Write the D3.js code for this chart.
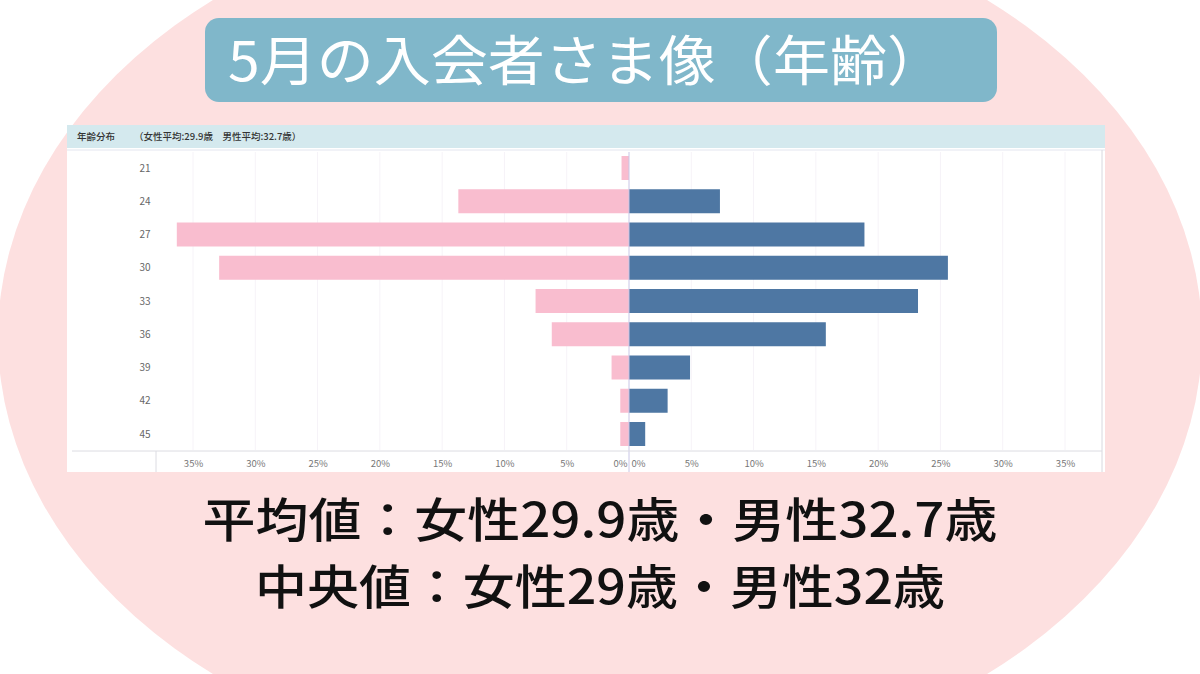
<!DOCTYPE html>
<html><head><meta charset="utf-8">
<script src="https://cdn.jsdelivr.net/npm/d3@7"></script>
<style>
html,body{margin:0;padding:0;background:#fff;}
svg{display:block;}
text{font-family:"Noto Sans CJK JP","Noto Sans",sans-serif;}
</style></head>
<body>
<svg id="c" width="1200" height="674"></svg>
<script>
const ages = [21, 24, 27, 30, 33, 36, 39, 42, 45];
const female = [0.6, 13.7, 36.3, 32.9, 7.5, 6.2, 1.4, 0.7, 0.7];
const male = [0, 7.3, 18.9, 25.6, 23.2, 15.8, 4.9, 3.1, 1.3];
const tickValues = [0, 5, 10, 15, 20, 25, 30, 35];
const title = "5月の入会者さま像（年齢）";
const headerLabel = "年齢分布";
const headerStats = "（女性平均:29.9歳　男性平均:32.7歳）";
const summaryLines = ["平均値：女性29.9歳・男性32.7歳", "中央値：女性29歳・男性32歳"];

const svg = d3.select("#c");

// background ellipse
svg.append("ellipse").attr("cx", 600).attr("cy", 337).attr("rx", 602).attr("ry", 440).attr("fill", "#fde0e0");

// title box
svg.append("rect").attr("x", 205).attr("y", 18).attr("width", 792).attr("height", 84).attr("rx", 14)
  .attr("fill", "#80b7ca");
svg.append("text").attr("x", 228).attr("y", 81).attr("font-size", 54).attr("fill", "#fff")
  .attr("font-family", "'Liberation Sans','Noto Sans CJK JP',sans-serif")
  .attr("textLength", 716).attr("lengthAdjust", "spacingAndGlyphs").text(title);

// chart panel
const panel = {x: 67, y: 125, w: 1038, h: 347};
svg.append("rect").attr("x", panel.x).attr("y", panel.y).attr("width", panel.w).attr("height", panel.h).attr("fill", "#fff");
svg.append("rect").attr("x", panel.x).attr("y", panel.y).attr("width", panel.w).attr("height", 23).attr("fill", "#d4e9ee");
svg.append("line").attr("x1", panel.x).attr("x2", panel.x + panel.w).attr("y1", 150).attr("y2", 150).attr("stroke", "#e3e6ef");
svg.append("text").attr("x", 77).attr("y", 140).attr("font-size", 9.5).attr("font-weight", 500).attr("fill", "#333").text(headerLabel);
svg.append("text").attr("x", 134).attr("y", 140).attr("font-size", 9.5).attr("font-weight", 500).attr("fill", "#333").text(headerStats);
svg.append("line").attr("x1", 1102).attr("x2", 1102).attr("y1", 150).attr("y2", 472).attr("stroke", "#d8d8de");

const cx = 629;
const xL = d3.scaleLinear().domain([0, 35]).range([cx, 193]);
const xR = d3.scaleLinear().domain([0, 35]).range([cx, 1065]);
const y = d3.scalePoint().domain(ages).range([168, 434]);
const bh = 24;

// faint grid
const g = svg.append("g");
tickValues.filter(t => t > 0).forEach(t => {
  [xL(t), xR(t)].forEach(px => g.append("line").attr("x1", px).attr("x2", px).attr("y1", 152).attr("y2", 450).attr("stroke", "#f6f3f8"));
});

// bars
svg.append("g").selectAll("rect").data(ages).join("rect")
  .attr("x", (d, i) => xL(female[i])).attr("width", (d, i) => cx - xL(female[i]))
  .attr("y", d => y(d) - bh / 2).attr("height", bh).attr("fill", "#f9bdcf");
svg.append("g").selectAll("rect").data(ages).join("rect")
  .attr("x", cx).attr("width", (d, i) => xR(male[i]) - cx)
  .attr("y", d => y(d) - bh / 2).attr("height", bh).attr("fill", "#4e77a3");

// center line
svg.append("line").attr("x1", cx).attr("x2", cx).attr("y1", 152).attr("y2", 472).attr("stroke", "#c9c6e6");

// age labels
svg.append("g").selectAll("text").data(ages).join("text")
  .attr("x", 145).attr("y", d => y(d) + 3.5).attr("text-anchor", "middle").attr("font-size", 10).attr("fill", "#666")
  .text(d => d);

// axis area
svg.append("line").attr("x1", 72).attr("x2", 1102).attr("y1", 451).attr("y2", 451).attr("stroke", "#dcdce2");
svg.append("line").attr("x1", 156).attr("x2", 156).attr("y1", 451).attr("y2", 472).attr("stroke", "#dcdce2");

const axL = d3.axisBottom(xL).tickValues(tickValues).tickFormat(d => d + "%").tickSize(0);
const axR = d3.axisBottom(xR).tickValues(tickValues).tickFormat(d => d + "%").tickSize(0);
const gl = svg.append("g").attr("transform", "translate(0,457)").call(axL);
const gr = svg.append("g").attr("transform", "translate(0,457)").call(axR);
[gl, gr].forEach(a => {
  a.select(".domain").remove();
  a.selectAll("text").attr("font-size", 9.5).attr("fill", "#777").attr("font-family", "'Noto Sans CJK JP',sans-serif");
});
gl.selectAll(".tick").filter(d => d === 0).select("text").attr("dx", -9);
gr.selectAll(".tick").filter(d => d === 0).select("text").attr("dx", 9);

// summary text
const lineWidths = [795, 690];
svg.append("g").selectAll("text").data(summaryLines).join("text")
  .attr("x", 600).attr("y", (d, i) => 537 + i * 67).attr("text-anchor", "middle")
  .attr("font-family", "'Liberation Sans','Noto Sans CJK JP',sans-serif")
  .attr("textLength", (d, i) => lineWidths[i]).attr("lengthAdjust", "spacingAndGlyphs")
  .attr("font-size", 47).attr("font-weight", 500).attr("fill", "#111").text(d => d);
</script>
</body></html>
